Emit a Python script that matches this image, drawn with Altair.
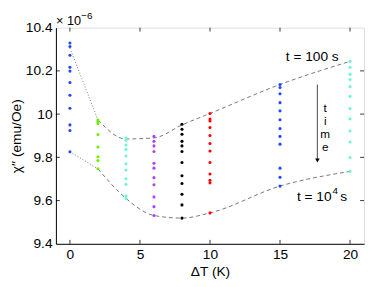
import altair as alt
import pandas as pd

# Data (chi'' in units of 1e-6 emu/Oe)
col_dT = [0, 2, 4, 6, 8, 10, 15, 20]
col_colors = ["#2446ff", "#6fee00", "#6ef5d8", "#b040ff", "#000000", "#ff0000", "#2446ff", "#6ef5d8"]
chi_0 = [10.329, 10.313, 10.272, 10.217, 10.199, 10.146, 10.087, 10.027, 9.950, 9.924, 9.826]
chi_2 = [9.973, 9.965, 9.957, 9.906, 9.848, 9.803, 9.785, 9.747]
chi_4 = [9.889, 9.879, 9.857, 9.837, 9.806, 9.770, 9.741, 9.701, 9.675, 9.622, 9.610]
chi_6 = [9.897, 9.874, 9.853, 9.827, 9.773, 9.750, 9.706, 9.673, 9.617, 9.572, 9.531]
chi_8 = [9.953, 9.930, 9.907, 9.874, 9.853, 9.827, 9.776, 9.715, 9.679, 9.629, 9.580, 9.519]
chi_10 = [10.003, 9.977, 9.968, 9.938, 9.901, 9.864, 9.829, 9.776, 9.723, 9.694, 9.682, 9.543]
chi_15 = [10.137, 10.123, 10.094, 10.053, 10.015, 9.974, 9.933, 9.897, 9.861, 9.750, 9.708, 9.667]
chi_20 = [10.244, 10.217, 10.184, 10.160, 10.127, 10.082, 10.026, 9.978, 9.922, 9.871, 9.799, 9.735]

# Guide curves
upper_x = [2, 4, 6, 8, 10, 15, 20]
upper_y = [9.973, 9.885, 9.890, 9.950, 10.003, 10.137, 10.244]
lower_x = [2, 4, 6, 8, 10, 15, 20]
lower_y = [9.747, 9.610, 9.531, 9.519, 9.543, 9.667, 9.735]
dot_up_x = [0, 2]
dot_up_y = [10.305, 9.973]
dot_lo_x = [0, 2]
dot_lo_y = [9.826, 9.747]

x_ticks = [0, 5, 10, 15, 20]
y_ticks = [9.4, 9.6, 9.8, 10.0, 10.2, 10.4]

cols = [chi_0, chi_2, chi_4, chi_6, chi_8, chi_10, chi_15, chi_20]
rows = []
for i, (dT, vals) in enumerate(zip(col_dT, cols)):
    for v in vals:
        rows.append({"dT": dT, "chi": v, "grp": str(i)})
pts = pd.DataFrame(rows)

W, H = 315, 221
xs = alt.Scale(domain=[-1, 21], nice=False, zero=False)
ys = alt.Scale(domain=[9.4, 10.4], nice=False, zero=False)
FONT = "Liberation Sans"
FS = 14

xax = alt.Axis(values=x_ticks, ticks=False, grid=False, domainColor="black", labelFontSize=FS,
               labelColor="black", labelFont=FONT, labelPadding=4, title="ΔT (K)",
               titleFontSize=FS, titleFont=FONT, titleFontWeight="normal", titlePadding=3, titleColor="black")
yax = alt.Axis(values=y_ticks, ticks=False, grid=False, domainColor="black", labelFontSize=FS,
               labelColor="black", labelFont=FONT, labelPadding=4,
               labelExpr="datum.value == 10 ? '10' : format(datum.value, '.1f')",
               title="χ′′ (emu/Oe)", titleFontSize=FS, titleFont=FONT, titleFontWeight="normal",
               titlePadding=2, titleColor="black")

points = alt.Chart(pts).mark_circle(size=10, opacity=1).encode(
    x=alt.X("dT:Q", scale=xs, axis=xax),
    y=alt.Y("chi:Q", scale=ys, axis=yax),
    color=alt.Color("grp:N", scale=alt.Scale(domain=[str(i) for i in range(8)], range=col_colors), legend=None),
)

def curve(xv, yv, dash, interp):
    df = pd.DataFrame({"dT": xv, "chi": yv})
    return alt.Chart(df).mark_line(color="#555555", strokeWidth=0.8, strokeDash=dash, interpolate=interp).encode(
        x=alt.X("dT:Q", scale=xs), y=alt.Y("chi:Q", scale=ys))

up = curve(upper_x, upper_y, [4, 3], "monotone")
lo = curve(lower_x, lower_y, [4, 3], "monotone")
dup = curve(dot_up_x, dot_up_y, [1, 2], "linear")
dlo = curve(dot_lo_x, dot_lo_y, [1, 2], "linear")

tx = pd.DataFrame({"t": x_ticks})
ty = pd.DataFrame({"t": y_ticks[1:-1]})
tick_b = alt.Chart(tx).mark_rule(color="black", strokeWidth=0.8).encode(
    x=alt.X("t:Q", scale=xs), y=alt.value(H), y2=alt.value(H - 4))
tick_t = alt.Chart(tx).mark_rule(color="black", strokeWidth=0.8).encode(
    x=alt.X("t:Q", scale=xs), y=alt.value(0), y2=alt.value(4))
tick_l = alt.Chart(ty).mark_rule(color="black", strokeWidth=0.8).encode(
    y=alt.Y("t:Q", scale=ys), x=alt.value(0), x2=alt.value(4))
tick_r = alt.Chart(ty).mark_rule(color="black", strokeWidth=0.8).encode(
    y=alt.Y("t:Q", scale=ys), x=alt.value(W), x2=alt.value(W - 4))

# annotations
ann_up = pd.DataFrame({"dT": [17.3], "chi": [10.264], "txt": ["t = 100 s"]})
ann_up_t = alt.Chart(ann_up).mark_text(fontSize=FS, font=FONT, color="black", align="center", baseline="middle").encode(
    x=alt.X("dT:Q", scale=xs), y=alt.Y("chi:Q", scale=ys), text="txt:N")

lo_main = pd.DataFrame({"dT": [18.68], "chi": [9.616], "txt": ["t = 10"]})
lo_sup = pd.DataFrame({"dT": [18.74], "chi": [9.646], "txt": ["4"]})
lo_s = pd.DataFrame({"dT": [19.3], "chi": [9.616], "txt": ["s"]})
ann_lo_main = alt.Chart(lo_main).mark_text(fontSize=FS, font=FONT, color="black", align="right",
                                           baseline="middle").encode(
    x=alt.X("dT:Q", scale=xs), y=alt.Y("chi:Q", scale=ys), text="txt:N")
ann_lo_sup = alt.Chart(lo_sup).mark_text(fontSize=10, font=FONT, color="black", align="left",
                                         baseline="middle").encode(
    x=alt.X("dT:Q", scale=xs), y=alt.Y("chi:Q", scale=ys), text="txt:N")
ann_lo_s = alt.Chart(lo_s).mark_text(fontSize=FS, font=FONT, color="black", align="left",
                                     baseline="middle").encode(
    x=alt.X("dT:Q", scale=xs), y=alt.Y("chi:Q", scale=ys), text="txt:N")

letters = pd.DataFrame({"dT": [18.23], "chi": [10.03], "txt": ["t\ni\nm\ne"]})
let_t = alt.Chart(letters).mark_text(fontSize=12, font=FONT, color="black", align="center", baseline="middle",
                                     lineBreak="\n", lineHeight=13.5).encode(
    x=alt.X("dT:Q", scale=xs), y=alt.Y("chi:Q", scale=ys), text="txt:N")

arr = pd.DataFrame({"x": [17.67], "y1": [10.137], "y2": [9.785]})
arrow_line = alt.Chart(arr).mark_rule(color="#666666", strokeWidth=1.2).encode(
    x=alt.X("x:Q", scale=xs), y=alt.Y("y1:Q", scale=ys), y2="y2:Q")
arrow_head = alt.Chart(arr).mark_point(shape="triangle-down", filled=True, size=22, color="black", opacity=1).encode(
    x=alt.X("x:Q", scale=xs), y=alt.Y("y2:Q", scale=ys))

mult = pd.DataFrame({"x": [0]})
mult_t = alt.Chart(mult).mark_text(fontSize=13, font=FONT, color="black", align="left", baseline="middle").encode(
    x=alt.value(0), y=alt.value(-7), text=alt.value("× 10"))
mult_e = alt.Chart(mult).mark_text(fontSize=10, font=FONT, color="black", align="left", baseline="middle").encode(
    x=alt.value(26), y=alt.value(-12), text=alt.value("−6"))

chart = alt.layer(
    dup, dlo, up, lo, points, tick_b, tick_t, tick_l, tick_r,
    ann_up_t, ann_lo_main, ann_lo_sup, ann_lo_s, let_t, arrow_line, arrow_head, mult_t, mult_e
).properties(
    width=W, height=H,
    autosize=alt.AutoSizeParams(type="none"),
    padding={"left": 49, "top": 17, "right": 2, "bottom": 38},
).configure_view(stroke="black", strokeWidth=1).configure(background="white")

chart.save("out.html", embed_options={"renderer": "svg", "actions": False})
